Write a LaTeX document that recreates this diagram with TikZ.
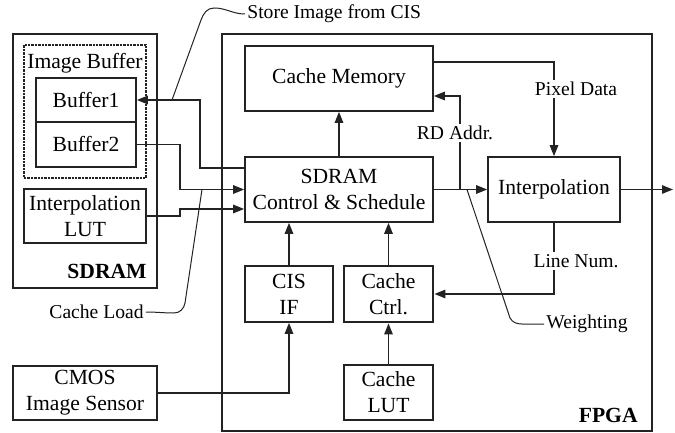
\documentclass[tikz,border=0pt]{standalone}
\usepackage{fontspec}
\setmainfont{Liberation Serif}
\usetikzlibrary{arrows.meta}
\definecolor{linegray}{RGB}{35,35,35}

\begin{document}
\begin{tikzpicture}[
  x=0.5pt, y=-0.5pt,
  blk/.style={
    rectangle, draw=linegray, line width=0.8pt,
    inner sep=0pt, align=center,
    font=\fontsize{10.8}{13}\selectfont
  },
  thkblk/.style={blk, line width=1.4pt},
  outerbox/.style={rectangle, draw=linegray, line width=1.3pt, inner sep=0pt},
  dotbox/.style={rectangle, draw=linegray, line width=1.4pt, dash pattern=on 1.2pt off 0.5pt, inner sep=0pt},
  arr/.style={-{Triangle[length=5.5pt,width=4.2pt]}, line width=0.8pt, color=linegray},
  lead/.style={line width=0.5pt, color=linegray},
  lbl/.style={font=\fontsize{9.8}{11}\selectfont, inner sep=1pt},
  tag/.style={font=\fontsize{10.8}{13}\selectfont\bfseries, inner sep=0pt}
]
\useasboundingbox (0,0) rectangle (675,433);

% containers
\node[outerbox, minimum width=72pt, minimum height=127pt] (sdram) at (85,161) {};
\node[outerbox, minimum width=215pt, minimum height=198.5pt] (fpga) at (437,232.5) {};
\node[dotbox, minimum width=61pt, minimum height=66.5pt] (imgbuf) at (85,111.5) {};

\node[blk, draw=none] (imgbuftxt) at (85,63) {Image Buffer};
\node[tag, anchor=east] (sdramtag) at (147,271) {SDRAM};
\node[tag, anchor=east] (fpgatag) at (638,415) {FPGA};

% SDRAM side
\node[blk, minimum width=50pt, minimum height=22pt] (buf1) at (86,100) {Buffer1};
\node[blk, minimum width=50pt, minimum height=22.5pt] (buf2) at (86,144.5) {Buffer2};
\node[blk, minimum width=61pt, minimum height=27pt] (lut) at (85,216) {Interpolation\\LUT};
\node[blk, minimum width=72pt, minimum height=27pt] (cmos) at (85,393) {CMOS\\Image Sensor};

% FPGA side
\node[blk, minimum width=94pt, minimum height=32.5pt] (cachemem) at (339,78.5) {Cache Memory};
\node[blk, minimum width=94pt, minimum height=32.5pt] (ctrl) at (339,189.5) {SDRAM\\Control \& Schedule};
\node[blk, minimum width=66pt, minimum height=32.5pt] (interp) at (554,189.5) {Interpolation};
\node[blk, minimum width=44pt, minimum height=28pt] (cisif) at (289,294) {CIS\\IF};
\node[thkblk, minimum width=44.5pt, minimum height=28pt] (cachectrl) at (388.5,294) {Cache\\Ctrl.};
\node[thkblk, minimum width=44.5pt, minimum height=27.5pt] (cachelut) at (388.5,392.5) {Cache\\LUT};

% helper points
\coordinate (b1a) at (200,168);
\coordinate (b1b) at (200,100);
\coordinate (j2) at (180,189.5);
\coordinate (j3) at (180,209);
\coordinate (pd) at (554,62);
\coordinate (rd) at (460,189.5);
\coordinate (rdtop) at (460,96);
\coordinate (ln) at (554,294);
\coordinate (out) at (673,189.5);

% connectors
\draw[arr] (ctrl.west |- b1a) -- (b1a) -- (b1b) -- (buf1.east);
\draw[arr] (buf2.east) -| (j2) -- (ctrl.west);
\draw[arr] (lut.east) -| (j3) -- (ctrl.west |- j3);
\draw[arr] (ctrl) -- (cachemem);
\draw[arr] (ctrl.east) -- (interp.west);
\draw[arr] (rd) -- (rdtop) -- (cachemem.east |- rdtop);
\draw[arr] (cachemem.east |- pd) -- (pd) -- (interp.north);
\draw[arr] (interp.east) -- (out);
\draw[arr] (interp.south) -- (ln) -- (cachectrl.east);
\draw[arr] (cisif.north) -- (cisif.north |- ctrl.south);
\draw[arr] (cachectrl.north) -- (cachectrl.north |- ctrl.south);
\draw[arr] (cachelut) -- (cachectrl);
\draw[arr] (cmos.east) -| (cisif.south);

% labels on the wires
\node[lbl, fill=white] (pixtxt) at (576,89) {Pixel Data};
\node[lbl, fill=white] (rdtxt) at (455,133) {RD Addr.};
\node[lbl, fill=white] (lntxt) at (576,261) {Line Num.};

% callouts
\node[lbl, anchor=west] (storetxt) at (245,14) {Store Image from CIS};
\node[lbl, anchor=east] (loadtxt) at (146,312) {Cache Load};
\node[lbl, anchor=west] (weighttxt) at (544,324) {Weighting};

\draw[lead] (172,100) -- (201,20) to[out=70,in=180] (214,8) to[out=0,in=180] (storetxt.west);
\draw[lead] (202,189.5) -- (185,303) to[out=-100,in=0] (174,313) to[out=180,in=0] (loadtxt.east);
\draw[lead] (467,189.5) -- (510,318) to[out=-60,in=180] (522,324) to[out=0,in=180] (weighttxt.west);

\end{tikzpicture}
\end{document}
